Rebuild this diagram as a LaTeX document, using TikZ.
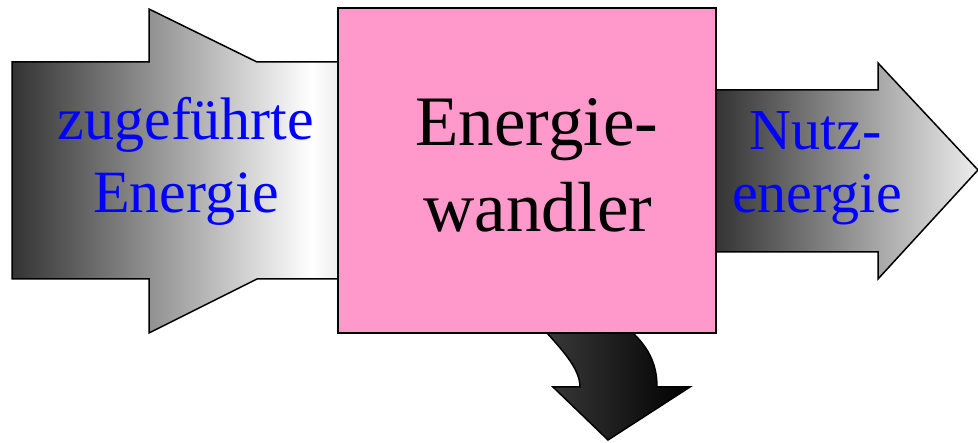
\documentclass[tikz,border=0pt]{standalone}
\usepackage{fontspec}
\setmainfont{Liberation Serif}
\definecolor{boxpink}{RGB}{255,153,204}
\pgfdeclarehorizontalshading{inshade}{100bp}{color(0bp)=(black!80); color(25bp)=(black!80); color(71bp)=(white); color(75bp)=(black!7); color(100bp)=(black!7)}
\begin{document}
\begin{tikzpicture}[x=1pt,y=-1pt,
  outl/.style={draw=black, line width=1.5pt, line join=miter},
  lbl/.style={text=blue, inner sep=0pt, anchor=base},
  big/.style={font=\fontsize{60}{72}\selectfont},
  mid/.style={font=\fontsize{58}{64}\selectfont},
  huge/.style={font=\fontsize{71}{86}\selectfont, text=black, inner sep=0pt, anchor=base},
  wbox/.style={draw=black, line width=2.5pt, fill=boxpink, minimum width=378pt, minimum height=325pt, inner sep=0pt}]
\useasboundingbox (0,0) rectangle (978,443);
% incoming arrow
\path[outl, shading=inshade]
  (12,62) -- (149,62) -- (149,9) -- (257,62) -- (338,62) -- (338,279)
  -- (257,279) -- (149,333) -- (149,279) -- (12,279) -- cycle;
% useful-energy arrow
\path[outl, left color=black!80, right color=black!7]
  (715,90) -- (878,90) -- (878,63) -- (978,170) -- (878,279) -- (878,252) -- (715,252) -- cycle;
% loss arrow
\path[outl, left color=black!78, right color=black]
  (547,333) .. controls (565,353) and (580,370) .. (580,387)
  -- (553,387) -- (608,440) -- (690,387) -- (657,387)
  .. controls (657,360) and (645,345) .. (633,333) -- cycle;
% converter box
\node[wbox] (box) at (527,170.5) {};
% labels
\node[lbl, big] (in1) at (186,140) {zugeführte};
\node[lbl, big] (in2) at (186,213) {Energie};
\node[huge] (c1) at (537,146) {Energie-};
\node[huge] (c2) at (538,232) {wandler};
\node[lbl, mid] (o1) at (816,150) {Nutz-};
\node[lbl, mid] (o2) at (817,213) {energie};
\end{tikzpicture}
\end{document}
